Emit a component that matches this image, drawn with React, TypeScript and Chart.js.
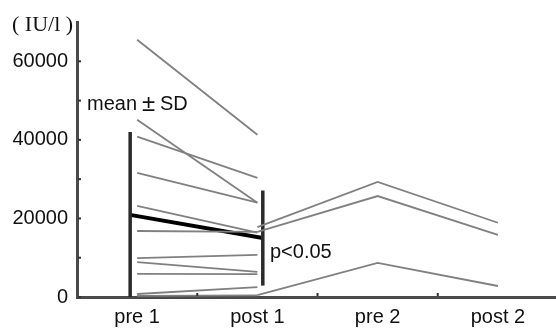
import React, { useEffect, useRef } from "react";
import { Chart, registerables } from "chart.js";

Chart.register(...registerables);

const categories = ["pre 1", "post 1", "pre 2", "post 2"];
const yTickLabels = [0, 20000, 40000, 60000];
const yMinorTicks = [10000, 30000, 50000];

// group 1: individual patients, pre 1 -> post 1
const group1Pre = [65500, 45100, 40800, 31600, 23200, 16800, 9900, 8900, 5900, 760, 300];
const group1Post = [41300, 24000, 30300, 24000, 16400, 16600, 10700, 6400, 5800, 2500, 400];

// group 2: individual patients, post 1 -> pre 2 -> post 2
const group2Post1 = [17800, 16600, 500];
const group2Pre2 = [29300, 25700, 8700];
const group2Post2 = [18900, 15800, 2800];

// mean ± SD for pre 1 and post 1
const meanValues = [20900, 15000];
const sdValues = [21100, 12100];
const meanXOffsets = [-0.058, 0.045];

const FONT = "'Liberation Sans', Arial, sans-serif";

const annotationPlugin = {
  id: "annotations",
  afterDraw(chart: any) {
    const ctx = chart.ctx;
    const x = chart.scales.x;
    const y = chart.scales.y;
    const area = chart.chartArea;
    ctx.save();
    ctx.fillStyle = "#333";
    [...yTickLabels, ...yMinorTicks].forEach((v) => {
      const py = y.getPixelForValue(v);
      ctx.fillRect(area.left + 1, py - 1, 3, 2);
    });
    [1.5, 2.5, 3.5].forEach((v) => {
      const px = x.getPixelForValue(v);
      ctx.fillRect(px - 1, area.bottom - 4, 2, 3);
    });
    ctx.fillStyle = "#111";
    ctx.textBaseline = "middle";
    ctx.textAlign = "left";
    ctx.font = "22px 'Liberation Serif', 'Times New Roman', serif";
    ctx.fillText("( IU/l )", 12, 25);
    ctx.font = "20px " + FONT;
    ctx.fillText("mean", 87, 104);
    ctx.fillText("SD", 160, 104);
    ctx.textAlign = "center";
    ctx.font = "24px " + FONT;
    ctx.fillText("±", 148.5, 104);
    ctx.textAlign = "left";
    ctx.font = "20px " + FONT;
    ctx.fillText("p<0.05", 270, 252);
    ctx.restore();
  },
};

export default function App() {
  const ref = useRef<HTMLCanvasElement>(null);
  useEffect(() => {
    if (!ref.current) return;
    const datasets: any[] = [];
    const indiv = { borderColor: "#808080", borderWidth: 1.8, pointRadius: 0, tension: 0, fill: false };
    group1Pre.forEach((v, i) => {
      datasets.push({ ...indiv, data: [{ x: 1, y: v }, { x: 2, y: group1Post[i] }] });
    });
    group2Post1.forEach((v, i) => {
      datasets.push({
        ...indiv,
        data: [
          { x: 2, y: v },
          { x: 3, y: group2Pre2[i] },
          { x: 4, y: group2Post2[i] },
        ],
      });
    });
    meanValues.forEach((m, i) => {
      const xv = i + 1 + meanXOffsets[i];
      datasets.push({
        borderColor: "#2a2a2a",
        borderWidth: 3.5,
        pointRadius: 0,
        borderCapStyle: "butt",
        data: [
          { x: xv, y: Math.max(0, m - sdValues[i]) },
          { x: xv, y: m + sdValues[i] },
        ],
      });
    });
    datasets.push({
      borderColor: "#000",
      borderWidth: 4,
      pointRadius: 0,
      data: meanValues.map((m, i) => ({ x: i + 1 + meanXOffsets[i], y: m })),
    });

    const chart = new Chart(ref.current, {
      type: "line",
      data: { datasets },
      options: {
        animation: false,
        responsive: false,
        layout: { padding: { top: 22, right: 0, left: 0, bottom: 0 } },
        plugins: { legend: { display: false }, tooltip: { enabled: false } },
        scales: {
          x: {
            type: "linear",
            min: 0.5,
            max: 4.483,
            afterBuildTicks: (s: any) => {
              s.ticks = categories.map((_, i) => ({ value: i + 1 }));
            },
            afterFit: (s: any) => {
              s.height = 34;
            },
            ticks: {
              callback: (v: any) => categories[Math.round(v) - 1] ?? "",
              color: "#111",
              font: { family: FONT, size: 20 },
              padding: 8,
              maxRotation: 0,
              autoSkip: false,
            },
            grid: { display: true, drawOnChartArea: false, drawTicks: false },
            border: { display: true, color: "#4a4a4a", width: 3 },
          },
          y: {
            type: "linear",
            min: 0,
            max: 70000,
            afterBuildTicks: (s: any) => {
              s.ticks = yTickLabels.map((v) => ({ value: v }));
            },
            afterFit: (s: any) => {
              s.width = 77;
            },
            ticks: {
              callback: (v: any) => String(v),
              color: "#111",
              font: { family: FONT, size: 20 },
              padding: 9,
            },
            grid: { display: true, drawOnChartArea: false, drawTicks: false },
            border: { display: true, color: "#4a4a4a", width: 3 },
          },
        },
      },
      plugins: [annotationPlugin],
    });
    return () => chart.destroy();
  }, []);
  return (
    <div style={{ position: "absolute", left: 0, top: 0, width: 556, height: 331, background: "#fff" }}>
      <canvas ref={ref} width={556} height={331} style={{ display: "block" }} />
    </div>
  );
}
